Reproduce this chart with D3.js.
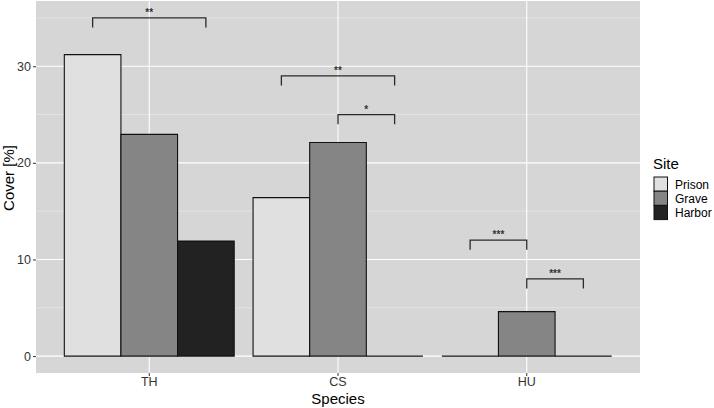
<!DOCTYPE html>
<html>
<head>
<meta charset="utf-8">
<script src="https://cdn.jsdelivr.net/npm/d3@7"></script>
<style>
  body { margin: 0; background: #fff; }
  text { font-family: "Liberation Sans", Arial, sans-serif; }
</style>
</head>
<body>
<div class="canva"></div>
<script>
// data
const species = ["TH", "CS", "HU"];
const sites = ["Prison", "Grave", "Harbor"];
const prison = [31.2, 16.4, 0];
const grave = [22.95, 22.1, 4.6];
const harbor = [11.9, 0, 0];
const yTicks = [0, 10, 20, 30];
const yMinor = [5, 15, 25, 35];

// significance brackets
const sigSpecies = ["TH", "CS", "CS", "HU", "HU"];
const sigFrom = ["Prison", "Prison", "Grave", "Prison", "Grave"];
const sigTo = ["Harbor", "Harbor", "Harbor", "Grave", "Harbor"];
const sigY = [35, 29, 25, 12, 8];
const sigLabel = ["**", "**", "*", "***", "***"];

const siteColors = ["#e0e0e0", "#858585", "#222222"];

const width = 714, height = 408;
const panel = {left: 36, right: 640, top: 1, bottom: 373};

const svg = d3.select(".canva").append("svg")
    .attr("width", width)
    .attr("height", height);

const x = d3.scaleBand()
    .domain(species)
    .range([panel.left, panel.right])
    .paddingInner(0.1)
    .paddingOuter(0.15);

const xSite = d3.scaleBand()
    .domain(sites)
    .range([0, x.bandwidth()]);

const y = d3.scaleLinear()
    .domain([-1.75, 36.75])
    .range([panel.bottom, panel.top]);

const color = d3.scaleOrdinal().domain(sites).range(siteColors);

// panel background
svg.append("rect")
    .attr("x", panel.left)
    .attr("y", panel.top)
    .attr("width", panel.right - panel.left)
    .attr("height", panel.bottom - panel.top)
    .attr("fill", "#d6d6d6");

const grid = svg.append("g");
grid.selectAll(".minor")
    .data(yMinor)
    .enter().append("line")
    .attr("x1", panel.left).attr("x2", panel.right)
    .attr("y1", d => y(d)).attr("y2", d => y(d))
    .attr("stroke", "#ececec")
    .attr("stroke-width", 0.6);
grid.selectAll(".major")
    .data(yTicks)
    .enter().append("line")
    .attr("x1", panel.left).attr("x2", panel.right)
    .attr("y1", d => y(d)).attr("y2", d => y(d))
    .attr("stroke", "#ffffff")
    .attr("stroke-width", 1.1);
grid.selectAll(".vert")
    .data(species)
    .enter().append("line")
    .attr("x1", d => x(d) + x.bandwidth() / 2)
    .attr("x2", d => x(d) + x.bandwidth() / 2)
    .attr("y1", panel.top).attr("y2", panel.bottom)
    .attr("stroke", "#ffffff")
    .attr("stroke-width", 1.1);

// bars (paths so that zero values still show as a line)
const rows = [];
species.forEach((s, i) => {
    rows.push({species: s, site: "Prison", value: prison[i]});
    rows.push({species: s, site: "Grave", value: grave[i]});
    rows.push({species: s, site: "Harbor", value: harbor[i]});
});

svg.append("g").selectAll("path")
    .data(rows)
    .enter().append("path")
    .attr("d", d => {
        const x0 = x(d.species) + xSite(d.site);
        const x1 = x0 + xSite.bandwidth();
        return `M${x0},${y(0)}V${y(d.value)}H${x1}V${y(0)}Z`;
    })
    .attr("fill", d => color(d.site))
    .attr("stroke", "#111")
    .attr("stroke-width", 1.1);

// brackets
const siteMid = (s, site) => x(s) + xSite(site) + xSite.bandwidth() / 2;
const sig = svg.append("g");
sigSpecies.forEach((s, i) => {
    const xa = siteMid(s, sigFrom[i]);
    const xb = siteMid(s, sigTo[i]);
    sig.append("path")
        .attr("d", `M${xa},${y(sigY[i] - 1)}V${y(sigY[i])}H${xb}V${y(sigY[i] - 1)}`)
        .attr("fill", "none")
        .attr("stroke", "#2a2a2a")
        .attr("stroke-width", 1.3);
    sig.append("text")
        .attr("x", (xa + xb) / 2)
        .attr("y", y(sigY[i]) - 2)
        .attr("text-anchor", "middle")
        .attr("font-size", 10)
        .attr("font-weight", "bold")
        .attr("fill", "#333")
        .text(sigLabel[i]);
});

// axes
const yAxis = svg.append("g")
    .attr("transform", `translate(${panel.left},0)`)
    .call(d3.axisLeft(y).tickValues(yTicks).tickSize(3).tickPadding(2));
yAxis.select(".domain").remove();
yAxis.selectAll("line").attr("stroke", "#333");
yAxis.selectAll("text")
    .attr("font-size", 12.5)
    .attr("fill", "#333")
    .style("font-family", "'Liberation Sans', Arial, sans-serif");

const xAxis = svg.append("g")
    .attr("transform", `translate(0,${panel.bottom})`)
    .call(d3.axisBottom(x).tickSize(3).tickPadding(1));
xAxis.select(".domain").remove();
xAxis.selectAll("line").attr("stroke", "#333");
xAxis.selectAll("text")
    .attr("font-size", 12.5)
    .attr("fill", "#333")
    .style("font-family", "'Liberation Sans', Arial, sans-serif");

// axis titles
svg.append("text")
    .attr("x", (panel.left + panel.right) / 2)
    .attr("y", 404)
    .attr("text-anchor", "middle")
    .attr("font-size", 15)
    .text("Species");

svg.append("text")
    .attr("transform", `translate(14,${(panel.top + panel.bottom) / 2 - 9}) rotate(-90)`)
    .attr("text-anchor", "middle")
    .attr("font-size", 15)
    .text("Cover [%]");

// legend
const legend = svg.append("g").attr("transform", "translate(654,0)");
legend.append("text")
    .attr("x", -1)
    .attr("y", 169)
    .attr("font-size", 15)
    .text("Site");

const keys = legend.selectAll(".key")
    .data(sites)
    .enter().append("g")
    .attr("transform", (d, i) => `translate(0,${177 + i * 14.2})`);
keys.append("rect")
    .attr("width", 13.5)
    .attr("height", 14.2)
    .attr("fill", d => color(d))
    .attr("stroke", "#111")
    .attr("stroke-width", 1);
keys.append("text")
    .attr("x", 21)
    .attr("y", 11.5)
    .attr("font-size", 12)
    .text(d => d);
</script>
</body>
</html>
